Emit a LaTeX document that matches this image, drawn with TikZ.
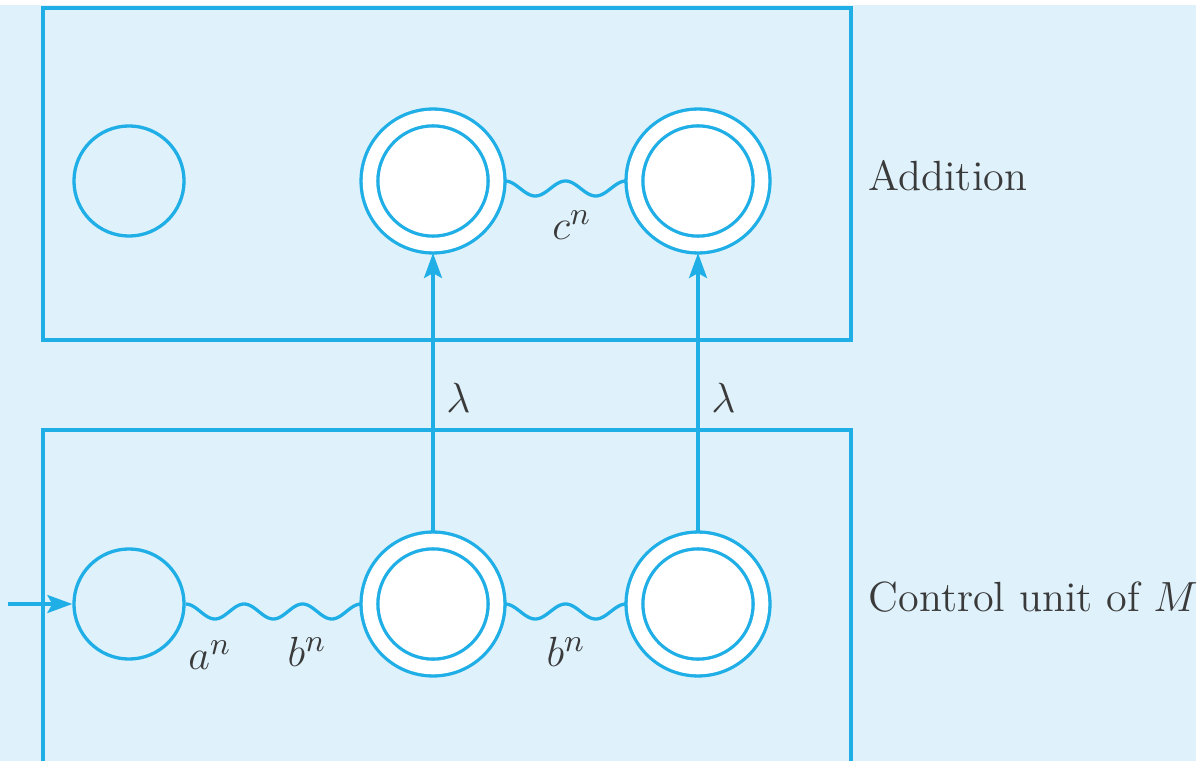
\documentclass[tikz,border=0pt]{standalone}
\usetikzlibrary{arrows.meta, calc}
\definecolor{paper}{HTML}{DFF2FC}
\definecolor{edgecol}{HTML}{1FAEE6}
\definecolor{ink}{HTML}{3A3A3A}

\begin{document}
\begin{tikzpicture}[
  x=0.01cm, y=-0.01cm,
  state/.style={circle, draw=edgecol, line width=0.033cm, minimum size=1.1cm, inner sep=0pt},
  accept/.style={state, fill=white, double=white, double distance=0.135cm,
                 minimum size=1.27cm, outer sep=0.085cm},
  frame/.style={draw=edgecol, line width=0.033cm},
  wire/.style={draw=edgecol, line width=0.033cm},
  flow/.style={draw=edgecol, line width=0.033cm,
               -{Stealth[length=0.25cm, width=0.18cm, inset=0.05cm]}},
  lab/.style={text=ink, font=\fontsize{12.5}{15}\selectfont},
  side/.style={lab, anchor=west, inner sep=0pt, font=\fontsize{12}{14}\selectfont},
]
\useasboundingbox (0,0) rectangle (1204,761);
\fill[paper] (0,5) rectangle (1196,761);
% the two machine blocks
\draw[frame] (43,8) rectangle (851,340);
\draw[frame] (43,761) -- (43,430) -- (851,430) -- (851,761);
% states of the addition block
\node[state]  (a0) at (129,181) {};
\node[accept] (a1) at (433,181) {};
\node[accept] (a2) at (698,181) {};
% states of the control unit
\node[state]  (c0) at (129,604) {};
\node[accept] (c1) at (433,604) {};
\node[accept] (c2) at (698,604) {};
% start arrow
\coordinate (start) at (8,604);
\draw[flow] (start) -- (c0);
% wavy transitions (source/target/number of waves)
\foreach \src/\dst/\k in {c0/c1/3, c1/c2/2, a1/a2/2}
  \draw[wire] let \p1=(\src.east), \p2=(\dst.west) in
    plot[variable=\t, domain=0:1, samples=90, smooth]
      ({\x1+\t*(\x2-\x1)}, {\y1+\t*(\y2-\y1)-2.13pt*(1-cos(360*\k*\t))});
\node[lab] at (210,655) {$a^n$};
\node[lab] at (307,652) {$b^n$};
\node[lab] at (566,652) {$b^n$};
\node[lab] at (572,225) {$c^n$};
% calls from the control unit into the addition block
\draw[flow] (c1) -- node[lab, right, pos=0.48] {$\lambda$} (a1);
\draw[flow] (c2) -- node[lab, right, pos=0.48] {$\lambda$} (a2);
% block names
\node[side] at (868,176) {Addition};
\node[side] at (868,597) {Control unit of $M$};
\end{tikzpicture}
\end{document}
